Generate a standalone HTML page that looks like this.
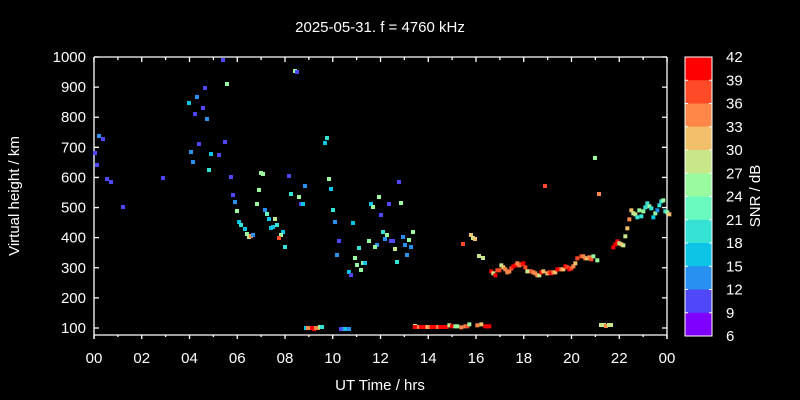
<!DOCTYPE html>
<html><head><meta charset="utf-8"><style>
html,body{margin:0;padding:0;background:#000;}
svg{display:block;font-family:"Liberation Sans",sans-serif;}
</style></head><body>
<svg id="s" width="800" height="400" xmlns="http://www.w3.org/2000/svg">
<rect width="800" height="400" fill="#000"/>
<text x="380" y="32" fill="#fff" font-size="15" text-anchor="middle">2025-05-31. f = 4760 kHz</text>
<text x="380" y="390" fill="#fff" font-size="15" text-anchor="middle">UT Time / hrs</text>
<text transform="translate(19,196) rotate(-90)" fill="#fff" font-size="15" text-anchor="middle">Virtual height / km</text>
<text transform="translate(760,196) rotate(-90)" fill="#fff" font-size="15" text-anchor="middle">SNR / dB</text>
<g id="ax" stroke="#fff" stroke-width="1.3" fill="none">
<path d="M94,57 H667 M94,57 V339 M667,57 V339 M94,335 H667"/>
</g>
<g id="ylab" fill="#fff" font-size="15" text-anchor="end"></g>
<g id="xlab" fill="#fff" font-size="15" text-anchor="middle"></g>
<g id="cb"></g>
<g id="pts"></g>
</svg>
<script>
var NS="http://www.w3.org/2000/svg";
function el(p,t,a,txt){var e=document.createElementNS(NS,t);for(var k in a)e.setAttribute(k,a[k]);if(txt!=null)e.textContent=txt;document.getElementById(p).appendChild(e);}
// y ticks
for(var i=1;i<=10;i++){var y=57+(1000-i*100)*0.3011;
 el("ax","path",{d:"M94,"+y+" h5 M667,"+y+" h-5"});
 el("ylab","text",{x:86,y:y+5},String(i*100));}
// x ticks
for(var h=0;h<=24;h++){var x=94+h*573/24;var L=(h%2==0)?5:3;
 el("ax","path",{d:"M"+x+",335 v"+(L-1)+" M"+x+",57 v"+L});
 if(h%2==0)el("xlab","text",{x:x,y:363},("0"+(h%24)).slice(-2));}
// colorbar
var cols=["#ff0000","#ff4a28","#ff8848","#f2c06a","#c8e68a","#9afaa0","#6afac0","#36e2d4","#0ec4e6","#2890f0","#5048f8","#8000ff"];
var bh=(336-57)/12;
for(var i=0;i<12;i++){el("cb","rect",{x:685,y:57+i*bh,width:27,height:bh+0.5,fill:cols[i]});}
el("cb","rect",{x:685,y:57,width:27,height:279,fill:"none",stroke:"#fff","stroke-width":1});
for(var i=0;i<=12;i++){var y=57+i*bh;
 if(i>0&&i<12){el("cb","path",{d:"M685,"+y+" h3 M712,"+y+" h-3",stroke:"#fff"});}
 el("cb","text",{x:726,y:y+5,fill:"#fff","font-size":15},String(42-3*i));}
var C={r:"#ff0000",ro:"#ff4a28",o:"#ff8848",p:"#f2c06a",y:"#c8e68a",g:"#9afaa0",tg:"#6afac0",t:"#36e2d4",c:"#0ec4e6",b:"#2890f0",u:"#5048f8"};
var P=[[223,60,"u"],[295,71,"g"],[297,72,"u"],[205,88,"u"],[227,84,"g"],[197,97,"b"],[189,103,"c"],[203,108,"u"],[195,114,"u"],[207,119,"b"],[99,136,"b"],[103,139,"u"],[199,144,"u"],[225,142,"u"],[191,152,"b"],[211,154,"c"],[219,155,"u"],[95,153,"u"],[97,165,"u"],[193,162,"b"],[209,170,"t"],[107,179,"u"],[111,182,"u"],[163,178,"u"],[231,177,"u"],[261,173,"g"],[263,174,"g"],[289,176,"u"],[305,186,"b"],[123,207,"u"],[233,195,"u"],[235,202,"b"],[259,190,"g"],[291,194,"t"],[299,197,"g"],[301,204,"u"],[303,204,"c"],[257,204,"g"],[237,211,"g"],[265,210,"b"],[267,214,"tg"],[275,219,"y"],[269,219,"c"],[239,222,"c"],[241,225,"t"],[277,225,"t"],[245,229,"c"],[271,228,"c"],[273,227,"c"],[283,232,"c"],[281,235,"g"],[279,238,"ro"],[247,234,"g"],[249,237,"y"],[251,236,"o"],[253,235,"b"],[285,247,"t"],
[327,138,"t"],[325,143,"c"],[329,179,"g"],[331,189,"c"],[333,210,"t"],[335,222,"b"],[353,223,"c"],[399,182,"u"],[379,197,"g"],[371,204,"c"],[373,207,"g"],[389,204,"u"],[401,203,"g"],[381,215,"u"],[383,232,"t"],[387,235,"g"],[385,239,"b"],[391,241,"u"],[393,241,"u"],[403,237,"b"],[413,232,"g"],[409,240,"g"],[405,245,"b"],[411,247,"b"],[395,249,"y"],[407,255,"b"],[397,262,"t"],[339,241,"u"],[337,255,"b"],[369,241,"g"],[359,248,"t"],[377,245,"b"],[375,247,"g"],[355,258,"g"],[357,265,"g"],[363,263,"g"],[365,263,"c"],[361,270,"g"],[349,272,"c"],[351,275,"u"],
[306,328,"c"],[308,328,"o"],[310,328,"o"],[312,328,"r"],[314,329,"r"],[316,328,"o"],[318,328,"o"],[320,327,"g"],[322,327,"t"],[341,329,"u"],[344,329,"b"],[346,329,"c"],[349,329,"b"],[415,326,"y"],[418,327,"r"],[420,327,"r"],
[545,186,"ro"],[599,194,"o"],[595,158,"g"],[463,244,"ro"],[471,235,"p"],[473,238,"y"],[475,239,"p"],[479,256,"y"],[483,258,"y"],[601,325,"y"],[604,325,"y"],[606,326,"o"],[609,325,"y"],[611,325,"y"]];
var curve=[[274,304,"r"],[280,310,"y"],[286,316,"r"],[292,301,"ro"],[298,301,"ro"],[304,286,"y"],[310,292,"p"],[316,298,"o"],[322,307,"o"],[328,304,"o"],[334,295,"ro"],[340,289,"r"],[346,286,"r"],[352,280,"o"],[358,286,"o"],[364,283,"ro"],[370,280,"r"],[376,292,"ro"],[382,304,"y"],[388,304,"y"],[394,304,"ro"],[400,307,"o"],[406,310,"o"],[412,316,"o"],[418,316,"y"],[424,307,"r"],[430,304,"p"],[442,310,"p"],[448,307,"ro"],[454,310,"r"],[460,307,"o"],[466,307,"p"],[472,298,"r"],[478,298,"r"],[484,298,"o"],[490,298,"p"],[496,289,"r"],[502,292,"ro"],[508,298,"r"],[514,295,"ro"],[520,289,"o"],[526,280,"p"],[532,265,"ro"],[544,259,"ro"],[550,259,"o"],[556,265,"o"],[562,265,"p"],[568,262,"o"],[574,268,"ro"],[580,259,"g"],[592,271,"g"],
[640,232,"r"],[646,223,"r"],[652,214,"r"],[658,220,"y"],[664,223,"p"],[670,226,"y"],[676,199,"y"],[682,175,"p"],[688,148,"o"],[694,121,"p"],[700,130,"y"],[706,133,"y"],[712,142,"t"],[718,121,"g"],[724,139,"t"],[730,124,"g"],[736,112,"t"],[742,100,"t"],[748,109,"g"],[754,115,"t"],[760,142,"c"],[766,130,"g"],[772,121,"b"],[778,106,"t"],[784,94,"t"],[790,91,"g"],[796,124,"t"],[802,127,"g"],[808,133,"p"]];
curve.forEach(function(q){P.push([q[0]/3+400,q[1]/3+170,q[2]]);});
var bot="r r o r r r p o r r r o r r r r".split(" ");
for(var i=0;i<bot.length;i++)P.push([(44+i*6.4)/3+400,327,bot[i]]);
[[148,466,"y"],[156,469,"r"],[166,469,"g"],[172,469,"g"],[184,472,"o"],[196,469,"o"],[202,469,"ro"],[208,463,"g"],[232,466,"o"],[244,463,"p"],[256,469,"r"],[262,469,"r"],[268,469,"r"]].forEach(function(q){P.push([q[0]/3+400,q[1]/3+170,q[2]]);});
P.forEach(function(q){el("pts","rect",{x:q[0]-2,y:q[1]-2,width:4,height:4,fill:C[q[2]]});});
</script>
</body></html>
